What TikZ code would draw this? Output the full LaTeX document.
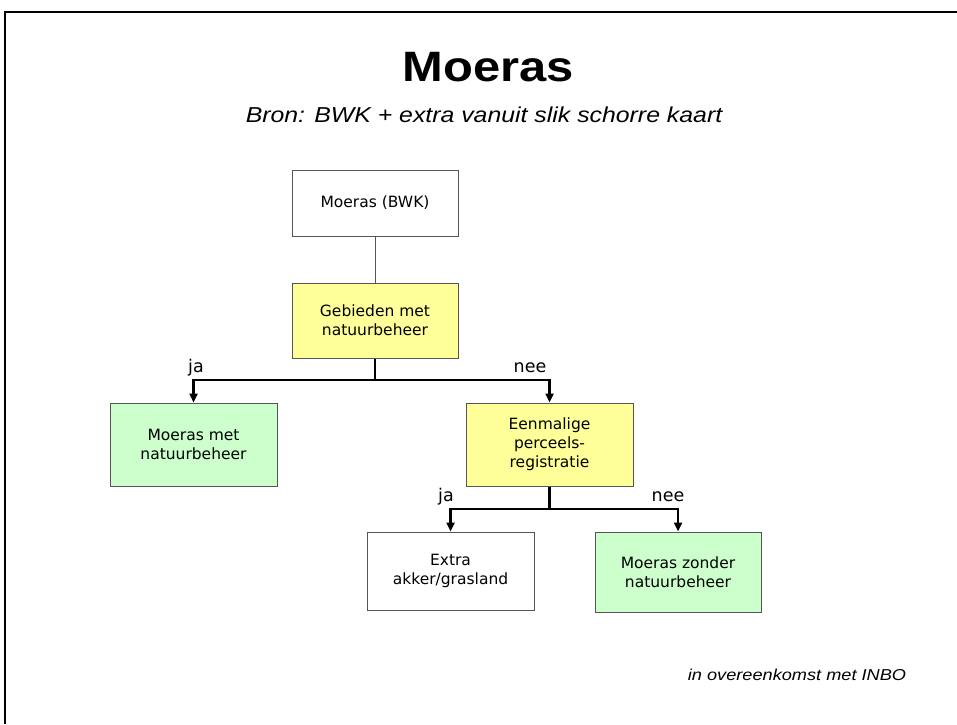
\documentclass[tikz,border=0pt]{standalone}
\usepackage{fontspec}
\setmainfont{DejaVu Sans}
\newfontfamily\headfont[FakeStretch=1.15]{Liberation Sans}
\usetikzlibrary{arrows.meta}
\definecolor{boxline}{HTML}{555555}
\definecolor{decide}{HTML}{FFFF99}
\definecolor{result}{HTML}{CCFFCC}
\tikzset{
  box/.style={draw=boxline, line width=1pt, fill=white, align=center,
    font=\fontsize{15.5}{19}\selectfont, inner sep=2pt},
  decision/.style={box, fill=decide},
  outcome/.style={box, fill=result},
  thinlink/.style={draw=boxline, line width=0.8pt},
  branch/.style={draw=black, line width=2.4pt},
  arrowlink/.style={branch, -{Triangle[length=9pt,width=8pt]}},
  lbl/.style={font=\fontsize{17.5}{20}\selectfont, anchor=base, inner sep=0pt}
}
\begin{document}
\begin{tikzpicture}[x=1pt,y=-1pt]
\useasboundingbox (0,0) rectangle (957,724);
% slide frame (open towards right and bottom)
\draw[line width=2pt] (5,724) -- (5,12) -- (957,12);

% headings
\node[font=\headfont\bfseries\fontsize{42.5}{46}\selectfont, anchor=base] (title) at (488,81) {Moeras};
\node[font=\headfont\itshape\fontsize{21.6}{24}\selectfont, anchor=base] (source) at (484,122) {Bron: BWK + extra vanuit slik schorre kaart};

% boxes
\node[box, minimum width=166pt, minimum height=66pt] (bwk) at (375,203) {Moeras (BWK)};
\node[decision, minimum width=166pt, minimum height=75pt] (beheer) at (375,320.5) {Gebieden met\\natuurbeheer};
\node[outcome, minimum width=167pt, minimum height=83pt] (met) at (193.5,444.5) {Moeras met\\natuurbeheer};
\node[decision, minimum width=167pt, minimum height=83pt] (perceel) at (549.5,444.5) {Eenmalige\\perceels-\\registratie};
\node[box, minimum width=167pt, minimum height=78pt] (extra) at (450.5,571) {Extra\\akker/grasland};
\node[outcome, minimum width=166pt, minimum height=80pt] (zonder) at (678,572) {Moeras zonder\\natuurbeheer};

% connectors
\draw[thinlink] (bwk.south) -- (beheer.north);

\coordinate (split1) at (375,380);
\draw[branch] (beheer.south) -- (split1);
\draw[arrowlink] (split1) -| (met.north);
\draw[arrowlink] (split1) -| (perceel.north);

\coordinate (split2) at (549.5,509);
\draw[branch] (perceel.south) -- (split2);
\draw[arrowlink] (split2) -| (extra.north);
\draw[arrowlink] (split2) -| (zonder.north);

% branch labels
\node[lbl] (ja1) at (196,372) {ja};
\node[lbl] (nee1) at (530,372) {nee};
\node[lbl] (ja2) at (446,501) {ja};
\node[lbl] (nee2) at (668,501) {nee};

% footer
\node[font=\headfont\itshape\fontsize{15.8}{18}\selectfont, anchor=base] (credit) at (797,680) {in overeenkomst met INBO};
\end{tikzpicture}
\end{document}
